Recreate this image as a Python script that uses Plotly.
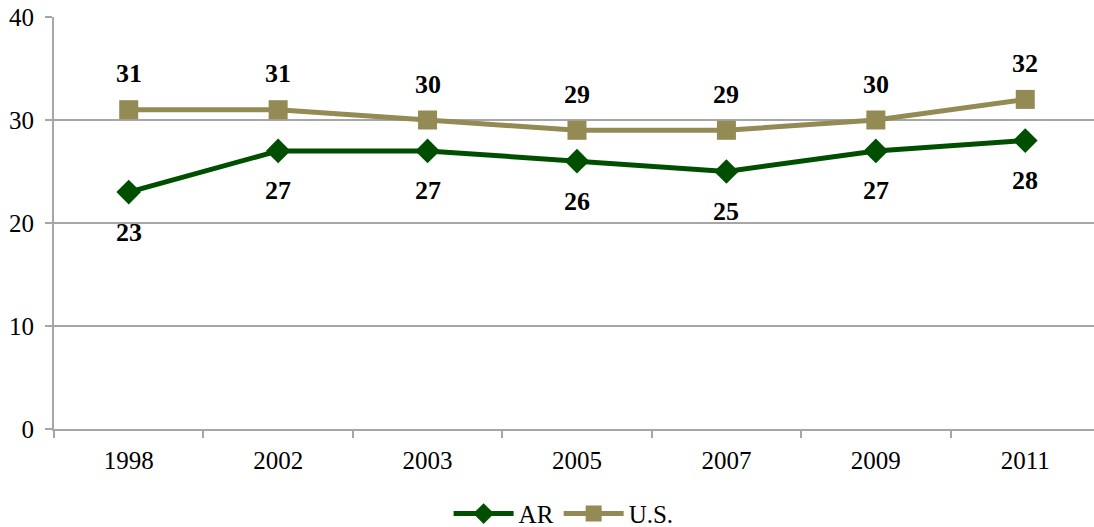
import plotly.graph_objects as go

years = ["1998", "2002", "2003", "2005", "2007", "2009", "2011"]
ar_values = [23, 27, 27, 26, 25, 27, 28]
us_values = [31, 31, 30, 29, 29, 30, 32]

ar_color = "#004F00"
us_color = "#948A54"
grid_color = "#A6A6A6"
font_family = "Liberation Serif, Times New Roman, serif"

fig = go.Figure()

fig.add_trace(go.Scatter(
    x=years, y=ar_values, name="AR", mode="lines+markers",
    line=dict(color=ar_color, width=5),
    marker=dict(symbol="diamond", size=19, color=ar_color),
))
fig.add_trace(go.Scatter(
    x=years, y=us_values, name="U.S.", mode="lines+markers",
    line=dict(color=us_color, width=5),
    marker=dict(symbol="square", size=19, color=us_color),
))

# data labels: U.S. above, AR below (x given as category index)
for i, y in enumerate(us_values):
    fig.add_annotation(x=i, y=y, xref="x", yref="y", text=f"<b>{y}</b>", showarrow=False,
                       yshift=36, font=dict(size=26, color="black", family=font_family))
for i, y in enumerate(ar_values):
    fig.add_annotation(x=i, y=y, xref="x", yref="y", text=f"<b>{y}</b>", showarrow=False,
                       yshift=-40, font=dict(size=26, color="black", family=font_family))

fig.update_layout(
    width=1094, height=527,
    margin=dict(l=54, r=0, t=17, b=98, autoexpand=False),
    plot_bgcolor="white", paper_bgcolor="white",
    font=dict(family=font_family, size=25, color="black"),
    showlegend=True,
    legend=dict(orientation="h", x=0.49, xanchor="center",
                yref="container", y=0.025, yanchor="middle",
                font=dict(size=25), itemwidth=60, tracegroupgap=0),
    xaxis=dict(
        type="category", range=[-0.5, 6.46],
        showgrid=False, showline=True, linecolor=grid_color, linewidth=2,
        ticks="outside", tickson="boundaries", ticklen=7, tickcolor=grid_color, tickwidth=2,
        tickfont=dict(size=25), ticklabelstandoff=8, fixedrange=True, automargin=False,
    ),
    yaxis=dict(
        range=[0, 40], dtick=10,
        showgrid=True, gridcolor=grid_color, gridwidth=1.5,
        showline=True, linecolor=grid_color, linewidth=2,
        ticks="outside", ticklen=7, tickcolor=grid_color, tickwidth=2,
        tickfont=dict(size=25), ticklabelstandoff=6, zeroline=False, automargin=False,
    ),
)

fig.write_html("out.html", config={"displayModeBar": False},
               post_script="document.body.style.margin='0';")
